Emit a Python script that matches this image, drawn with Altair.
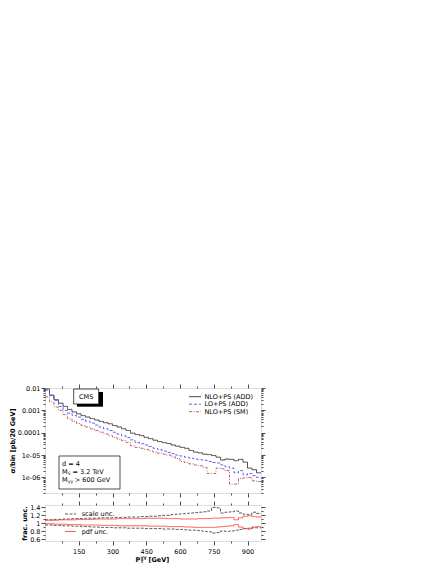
import altair as alt
import pandas as pd

# ---------------- data ----------------
BIN_LOW = [0, 20, 40, 60, 80, 100, 120, 140, 160, 180, 200, 220, 240, 260, 280, 300,
           320, 340, 360, 380, 400, 420, 440, 460, 480, 500, 520, 540, 560, 580, 600, 620,
           640, 660, 680, 700, 720, 740, 760, 780, 800, 820, 840, 860, 880, 900, 920, 940]
BIN_END = 960

SERIES = ["NLO+PS (ADD)", "LO+PS (ADD)", "NLO+PS (SM)"]

NLO_ADD = [0.0090, 0.0048, 0.0030, 0.0021, 0.0015, 0.0011, 0.00085, 0.00070, 0.00058, 0.00050,
           0.00043, 0.00037, 0.00032, 0.00028, 0.00025, 0.00021, 0.00018, 0.000150, 0.000125, 9.5e-5,
           8.3e-5, 7.4e-5, 6.2e-5, 5.4e-5, 4.6e-5, 4.0e-5, 3.6e-5, 3.3e-5, 2.8e-5, 2.5e-5,
           2.2e-5, 2.0e-5, 1.6e-5, 1.35e-5, 1.25e-5, 1.1e-5, 1.05e-5, 9.5e-6, 8.0e-6, 6.0e-6,
           6.6e-6, 6.4e-6, 5.6e-6, 6.4e-6, 4.8e-6, 2.6e-6, 2.2e-6, 1.6e-6]
LO_ADD = [0.0080, 0.0046, 0.0028, 0.0015, 0.0010, 0.00075, 0.00060, 0.00050, 0.00040, 0.00033,
          0.00027, 0.00022, 0.00018, 0.000150, 0.000125, 0.000105, 8.6e-5, 7.2e-5, 6.0e-5, 4.8e-5,
          3.6e-5, 3.2e-5, 2.8e-5, 2.4e-5, 2.0e-5, 1.75e-5, 1.5e-5, 1.3e-5, 1.15e-5, 1.0e-5,
          9.0e-6, 8.0e-6, 7.2e-6, 6.6e-6, 6.2e-6, 5.8e-6, 5.2e-6, 4.6e-6, 4.4e-6, 3.6e-6,
          3.0e-6, 2.6e-6, 1.6e-6, 2.0e-6, 1.3e-6, 1.5e-6, 1.2e-6, 1.0e-6]
NLO_SM = [0.0040, 0.0024, 0.0014, 0.0010, 0.00065, 0.00042, 0.00032, 0.00026, 0.00021, 0.00018,
          0.000150, 0.000125, 0.000105, 8.8e-5, 7.4e-5, 6.2e-5, 5.2e-5, 4.4e-5, 3.7e-5, 2.6e-5,
          2.2e-5, 2.0e-5, 1.8e-5, 1.55e-5, 1.35e-5, 1.2e-5, 1.1e-5, 1.0e-5, 8.2e-6, 7.0e-6,
          5.2e-6, 4.6e-6, 4.0e-6, 3.6e-6, 3.3e-6, 2.8e-6, 1.5e-6, 1.5e-6, 2.6e-6, 2.4e-6,
          2.0e-6, 5.0e-7, 5.0e-7, 9.0e-7, 9.5e-7, 1.0e-6, 7.0e-7, 6.5e-7]

SCALE_UP = [1.08, 1.08, 1.09, 1.09, 1.10, 1.10, 1.11, 1.11, 1.11, 1.12, 1.12, 1.12, 1.13, 1.13, 1.13, 1.14,
            1.14, 1.14, 1.15, 1.15, 1.15, 1.16, 1.16, 1.17, 1.17, 1.18, 1.19, 1.19, 1.21, 1.22, 1.23, 1.24,
            1.25, 1.26, 1.27, 1.28, 1.30, 1.39, 1.38, 1.25, 1.27, 1.28, 1.30, 1.25, 1.22, 1.21, 1.27, 1.24]
SCALE_DN = [0.95, 0.95, 0.94, 0.94, 0.93, 0.93, 0.92, 0.92, 0.91, 0.91, 0.90, 0.90, 0.89, 0.89, 0.89, 0.88,
            0.88, 0.88, 0.87, 0.87, 0.87, 0.87, 0.86, 0.86, 0.86, 0.86, 0.85, 0.85, 0.85, 0.84, 0.84, 0.83,
            0.82, 0.82, 0.81, 0.79, 0.78, 0.75, 0.76, 0.80, 0.79, 0.80, 0.82, 0.84, 0.86, 0.85, 0.88, 0.88]
PDF_UP = [1.07, 1.07, 1.07, 1.08, 1.08, 1.08, 1.08, 1.09, 1.09, 1.09, 1.09, 1.10, 1.10, 1.10, 1.10, 1.10,
          1.11, 1.11, 1.11, 1.11, 1.11, 1.11, 1.12, 1.12, 1.12, 1.12, 1.12, 1.11, 1.11, 1.11, 1.10, 1.10,
          1.10, 1.10, 1.11, 1.11, 1.11, 1.12, 1.12, 1.13, 1.13, 1.14, 1.08, 1.13, 1.17, 1.18, 1.16, 1.15]
PDF_DN = [0.98, 0.98, 0.97, 0.97, 0.97, 0.96, 0.96, 0.96, 0.95, 0.95, 0.95, 0.95, 0.94, 0.94, 0.94, 0.94,
          0.93, 0.93, 0.93, 0.93, 0.93, 0.93, 0.93, 0.92, 0.92, 0.92, 0.92, 0.91, 0.91, 0.91, 0.91, 0.90,
          0.90, 0.89, 0.89, 0.89, 0.89, 0.89, 0.90, 0.91, 0.92, 0.93, 0.96, 0.90, 0.86, 0.87, 0.90, 0.91]

X_TICKS = [75, 150, 225, 300, 375, 450, 525, 600, 675, 750, 825, 900]
Y_MAJOR = [1e-2, 1e-3, 1e-4, 1e-5, 1e-6]
Y_LABELS = ["0.01", "0.001", "0.0001", "1e-05", "1e-06"]
R_TICKS = [0.6, 0.7, 0.8, 0.9, 1.0, 1.1, 1.2, 1.3, 1.4]
UNC_LABELS = ["scale unc.", "pdf unc."]

# ---------------- styling ----------------
FONT = "DejaVu Sans"
FS = 6.5
W, H1, H2 = 216, 105, 36
COLORS = ["#1a1a1a", "#3a3aff", "#b53a3a"]
DASHES = [[1, 0], [3, 2], [3, 1.5, 1, 1.5]]
UNC_COLORS = ["#333333", "#ff3030"]
UNC_DASH = [[3, 1.5], [1, 0]]


def step_rows(values, **extra):
    rows = [dict(pt=x, v=v, **extra) for x, v in zip(BIN_LOW, values)]
    rows.append(dict(pt=BIN_END, v=values[-1], **extra))
    return rows


main_rows = []
for name, vals in zip(SERIES, [NLO_ADD, LO_ADD, NLO_SM]):
    main_rows += step_rows(vals, s=name)
main_df = pd.DataFrame(main_rows)

unc_rows = []
unc_rows += step_rows(SCALE_UP, band=UNC_LABELS[0], side="up")
unc_rows += step_rows(SCALE_DN, band=UNC_LABELS[0], side="dn")
unc_rows += step_rows(PDF_UP, band=UNC_LABELS[1], side="up")
unc_rows += step_rows(PDF_DN, band=UNC_LABELS[1], side="dn")
unc_df = pd.DataFrame(unc_rows)

# minor log ticks
y_ticks = []
for d in Y_MAJOR + [1e-7]:
    for m in range(1, 10):
        t = m * d
        if 2e-7 <= t <= 1e-2 * 1.0001:
            y_ticks.append(t)

lab_expr = ""
for val, lab in zip(Y_MAJOR, Y_LABELS):
    lab_expr += f"abs(datum.value/{val} - 1) < 0.001 ? '{lab}' : "
lab_expr += "''"

log_major = "abs(log(datum.value)/LN10 - round(log(datum.value)/LN10)) < 0.001"
x_major = "datum.value % 150 == 0"
r_major = "abs(datum.value*5 - round(datum.value*5)) < 0.001"

x_scale = alt.Scale(domain=[0, BIN_END], nice=False, zero=False)
y_scale = alt.Scale(type="log", domain=[2e-7, 1e-2], nice=False)
r_scale = alt.Scale(domain=[0.55, 1.45], nice=False, zero=False)

ax_common = dict(grid=False, domain=False, tickColor="black", tickWidth=0.7,
                 labelFont=FONT, labelFontSize=FS, labelColor="black",
                 titleFont=FONT, titleFontSize=FS, titleColor="black", titleFontWeight="bold")


def xsz(major, minor):
    return {"condition": {"test": x_major, "value": major}, "value": minor}


# ---------------- main panel ----------------
lines = alt.Chart(main_df).mark_line(interpolate="step-after", strokeWidth=0.8).encode(
    x=alt.X("pt:Q", scale=x_scale,
            axis=alt.Axis(orient="bottom", values=X_TICKS, labels=False, title=None,
                          tickSize=xsz(4, 2), **ax_common)),
    y=alt.Y("v:Q", scale=y_scale,
            axis=alt.Axis(orient="left", values=y_ticks, labelExpr=lab_expr,
                          tickSize={"condition": {"test": log_major, "value": 4}, "value": 2},
                          labelPadding=1, titlePadding=2, title="σ/bin [pb/20 GeV]", **ax_common)),
    color=alt.Color("s:N", scale=alt.Scale(domain=SERIES, range=COLORS), legend=None),
    strokeDash=alt.StrokeDash("s:N", scale=alt.Scale(domain=SERIES, range=DASHES), legend=None),
)
mirror = alt.Chart(main_df).mark_line(opacity=0).encode(
    x=alt.X("pt:Q", scale=x_scale,
            axis=alt.Axis(orient="top", values=X_TICKS, labels=False, title=None,
                          tickSize=xsz(4, 2), **ax_common)),
    y=alt.Y("v:Q", scale=y_scale,
            axis=alt.Axis(orient="right", values=y_ticks, labels=False, title=None,
                          tickSize={"condition": {"test": log_major, "value": 4}, "value": 2},
                          **ax_common)),
)

one = pd.DataFrame({"k": [0]})
legend_layers = []
for i, name in enumerate(SERIES):
    yy = 8.7 + 7.5 * i
    d = pd.DataFrame({"s": [name]})
    legend_layers.append(alt.Chart(d).mark_rule(color=COLORS[i], strokeDash=DASHES[i], strokeWidth=0.8).encode(
        x=alt.value(144), x2=alt.value(156), y=alt.value(yy)))
    legend_layers.append(alt.Chart(d).mark_text(align="left", baseline="middle", font=FONT,
                                                fontSize=FS, color="black").encode(
        x=alt.value(159.5), y=alt.value(yy), text="s:N"))

cms_shadow = alt.Chart(one).mark_rect(color="black").encode(
    x=alt.value(32), x2=alt.value(58), y=alt.value(4), y2=alt.value(18.7))
cms_box = alt.Chart(one).mark_rect(fill="white", stroke="black", strokeWidth=0.7).encode(
    x=alt.value(28.7), x2=alt.value(53.7), y=alt.value(1), y2=alt.value(16))
cms_text = alt.Chart(pd.DataFrame({"t": ["CMS"]})).mark_text(
    font=FONT, fontSize=FS, baseline="middle", align="center").encode(
    x=alt.value(41.2), y=alt.value(8.7), text="t:N")

par_box = alt.Chart(one).mark_rect(fill="white", stroke="black", strokeWidth=0.7).encode(
    x=alt.value(14), x2=alt.value(75), y=alt.value(68), y2=alt.value(101))


def txt(s, x, y, size=FS, weight="normal"):
    return alt.Chart(pd.DataFrame({"t": [s]})).mark_text(
        font=FONT, fontSize=size, baseline="middle", align="left", fontWeight=weight,
        color="black").encode(x=alt.value(x), y=alt.value(y), text="t:N")


par_text = [
    txt("d = 4", 17, 76),
    txt("M", 17, 84.3), txt("S", 22.8, 85.8, 4.5), txt("= 3.2 TeV", 27.5, 84.3),
    txt("M", 17, 92.2), txt("γγ", 22.8, 93.8, 4.5), txt("> 600 GeV", 29.8, 92.2),
]

main = alt.layer(lines, mirror, par_box, *par_text, cms_shadow, cms_box, cms_text,
                 *legend_layers).resolve_axis(x="independent", y="independent").properties(
    width=W, height=H1)

# ---------------- ratio panel ----------------
def rsz(major, minor):
    return {"condition": {"test": r_major, "value": major}, "value": minor}


unc_lines = alt.Chart(unc_df).mark_line(interpolate="step-after", strokeWidth=0.8).encode(
    x=alt.X("pt:Q", scale=x_scale,
            axis=alt.Axis(orient="bottom", values=X_TICKS, title=None,
                          labelExpr="datum.value % 150 == 0 ? datum.label : ''",
                          tickSize=xsz(4, 2), labelPadding=3, **ax_common)),
    y=alt.Y("v:Q", scale=r_scale,
            axis=alt.Axis(orient="left", values=R_TICKS, title="frac. unc.",
                          labelExpr=f"{r_major} ? format(datum.value, '.1~f') : ''",
                          tickSize=rsz(4, 2), labelPadding=1, titlePadding=2, **ax_common)),
    color=alt.Color("band:N", scale=alt.Scale(domain=UNC_LABELS, range=UNC_COLORS), legend=None),
    strokeDash=alt.StrokeDash("band:N", scale=alt.Scale(domain=UNC_LABELS, range=UNC_DASH), legend=None),
    detail="side:N",
)
unc_mirror = alt.Chart(unc_df).mark_line(opacity=0).encode(
    x=alt.X("pt:Q", scale=x_scale,
            axis=alt.Axis(orient="top", values=X_TICKS, labels=False, title=None,
                          tickSize=xsz(4, 2), **ax_common)),
    y=alt.Y("v:Q", scale=r_scale,
            axis=alt.Axis(orient="right", values=R_TICKS, labels=False, title=None,
                          tickSize=rsz(4, 2), **ax_common)),
)

unc_leg = []
for i, name in enumerate(UNC_LABELS):
    yy = 9 + 17.5 * i
    d = pd.DataFrame({"s": [name]})
    unc_leg.append(alt.Chart(d).mark_rule(color=UNC_COLORS[i], strokeDash=UNC_DASH[i], strokeWidth=0.8).encode(
        x=alt.value(20), x2=alt.value(31), y=alt.value(yy)))
    unc_leg.append(alt.Chart(d).mark_text(align="left", baseline="middle", font=FONT,
                                          fontSize=FS, color="black").encode(
        x=alt.value(36.7), y=alt.value(yy), text="s:N"))

xt_y = H2 + 19
x_title = [
    txt("P", 90.5, xt_y, FS, "bold"),
    txt("T", 95.5, xt_y + 2, 4.5, "bold"),
    txt("γγ", 95.5, xt_y - 2.5, 4.5, "bold"),
    txt("[GeV]", 103.5, xt_y, FS, "bold"),
]

lower = alt.layer(unc_lines, unc_mirror, *unc_leg, *x_title).resolve_axis(
    x="independent", y="independent").properties(width=W, height=H2)

chart = alt.vconcat(main, lower, spacing=2).resolve_scale(
    color="independent", strokeDash="independent"
).properties(
    padding={"left": 0, "top": 375, "right": 5, "bottom": 0}
).configure_view(stroke="black", strokeWidth=0.8).configure(background="white")

chart.save("out.html", embed_options={"renderer": "svg", "actions": False})
